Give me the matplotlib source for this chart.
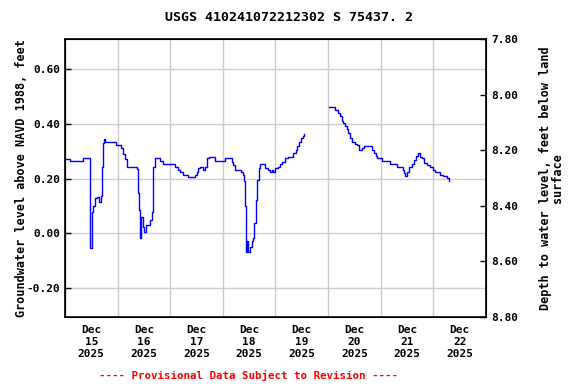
import numpy as np
import pandas as pd
import matplotlib
matplotlib.use('Agg')
import matplotlib.pyplot as plt

# hours since 2025-12-15 00:00 and groundwater level (ft above NAVD 1988)
hours_a = [0.3, 2.3, 7.3, 8.2, 11.0, 11.4, 11.6, 12.3, 12.5, 13.0, 13.7, 14.5, 15.7, 16.3, 16.7,
           17.0, 17.5, 17.9, 18.3, 22.8, 23.3, 25.1, 25.6, 26.6, 27.5, 28.2, 28.7, 31.9, 33.0,
           33.4, 33.9, 34.4, 34.7, 35.6, 36.2, 37.0, 37.9, 38.8, 39.6, 40.0, 40.3, 41.1, 42.9,
           43.3, 44.6, 49.4, 50.2, 51.7, 52.5, 53.7, 55.5, 56.3, 58.5, 59.3, 60.1, 60.8, 61.6,
           62.8, 63.1, 63.9, 64.7, 65.8, 67.4, 68.4, 72.2, 73.0, 75.3, 76.1, 76.8, 77.6, 79.1,
           80.2, 81.4, 81.8, 82.1, 82.4, 82.6, 83.2, 83.6, 84.4, 85.2, 85.9, 86.4, 87.2, 87.7,
           88.5, 89.0, 89.8, 91.3, 92.8, 93.5, 94.3, 95.0, 95.8, 97.3, 98.1, 98.9, 100.4, 101.9,
           103.9, 104.2, 105.4, 106.0, 106.9, 107.6, 108.5, 109.1]
level_a = [0.271, 0.264, 0.264, 0.275, 0.275, 0.27, -0.054, -0.054, 0.079, 0.10, 0.13, 0.132, 0.115,
           0.136, 0.17, 0.243, 0.331, 0.343, 0.332, 0.332, 0.322, 0.322, 0.31, 0.29, 0.27, 0.243,
           0.243, 0.243, 0.235, 0.147, 0.085, -0.017, 0.06, 0.023, 0.005, 0.03, 0.03, 0.048, 0.079,
           0.147, 0.243, 0.274, 0.274, 0.264, 0.253, 0.253, 0.243, 0.233, 0.223, 0.213, 0.213,
           0.205, 0.205, 0.213, 0.223, 0.237, 0.243, 0.243, 0.23, 0.243, 0.274, 0.28, 0.28, 0.264,
           0.264, 0.274, 0.274, 0.262, 0.25, 0.233, 0.233, 0.223, 0.213, 0.19, 0.10, -0.01, -0.067,
           -0.03, -0.067, -0.05, -0.03, -0.018, 0.037, 0.121, 0.194, 0.237, 0.252, 0.252, 0.24,
           0.233, 0.223, 0.232, 0.223, 0.24, 0.243, 0.253, 0.262, 0.274, 0.28, 0.28, 0.292, 0.304,
           0.32, 0.335, 0.347, 0.355, 0.363]

hours_b = [120.5, 122.7, 123.2, 124.3, 125.5, 126.3, 127.0, 127.8, 128.5, 129.3, 130.0, 130.8,
           132.3, 133.1, 134.3, 135.4, 136.4, 139.2, 139.9, 141.0, 141.9, 142.5, 144.1, 144.5,
           147.5, 148.3, 151.4, 151.6, 152.9, 154.1, 154.7, 155.3, 156.2, 157.1, 158.2, 159.2,
           160.2, 160.8, 162.0, 163.0, 163.9, 165.0, 166.5, 167.7, 168.8, 170.3, 171.1, 172.6,
           174.2, 175.2]
level_b = [0.46, 0.46, 0.45, 0.44, 0.428, 0.41, 0.404, 0.392, 0.382, 0.367, 0.347, 0.335, 0.328,
           0.322, 0.304, 0.31, 0.32, 0.32, 0.304, 0.294, 0.282, 0.274, 0.274, 0.264, 0.264, 0.253,
           0.253, 0.243, 0.241, 0.233, 0.221, 0.21, 0.223, 0.241, 0.253, 0.267, 0.282, 0.292, 0.28,
           0.274, 0.256, 0.25, 0.241, 0.233, 0.223, 0.223, 0.213, 0.21, 0.203, 0.192]

left_ticks = [-0.20, 0.00, 0.20, 0.40, 0.60]
right_ticks = [7.80, 8.00, 8.20, 8.40, 8.60, 8.80]
day_labels = ['15', '16', '17', '18', '19', '20', '21', '22']

start = pd.Timestamp('2025-12-15 00:00')
times_a = [start + pd.Timedelta(hours=h) for h in hours_a]
times_b = [start + pd.Timedelta(hours=h) for h in hours_b]

plt.rcParams['font.family'] = 'DejaVu Sans Mono'
plt.rcParams['font.weight'] = 'bold'

fig = plt.figure(figsize=(5.76, 3.84), dpi=100)
ax = fig.add_axes([0.1128, 0.1745, 0.7309, 0.7240])

# two separate segments (data gap on Dec 19-20)
ax.plot(times_a, level_a, color='#0000ff', linewidth=1.0, drawstyle='steps-post')
ax.plot(times_b, level_b, color='#0000ff', linewidth=1.0, drawstyle='steps-post')

ax.set_xlim(start, start + pd.Timedelta(days=8))
ax.set_ylim(-0.306, 0.71)

# grid at midnight, labels at noon
ax.set_xticks([start + pd.Timedelta(days=i) for i in range(9)], minor=True)
ax.set_xticks([start + pd.Timedelta(days=i, hours=12) for i in range(8)])
ax.set_xticklabels(['Dec\n' + d + '\n2025' for d in day_labels], fontsize=8, fontweight='bold')
ax.tick_params(axis='x', which='both', length=0, pad=6)
ax.grid(True, which='minor', axis='x', color='#cccccc', linewidth=1)
ax.set_yticks(left_ticks)
ax.set_yticklabels(['%.2f' % v for v in left_ticks], fontsize=8, fontweight='bold')
ax.tick_params(axis='y', direction='in', length=4, width=1)
ax.grid(True, which='major', axis='y', color='#cccccc', linewidth=1)
ax.set_axisbelow(True)
for s in ax.spines.values():
    s.set_linewidth(1.2)

ax.set_ylabel('Groundwater level above NAVD 1988, feet', fontsize=8.5, fontweight='bold')
ax.yaxis.set_label_coords(-0.088, 0.5)

ax2 = ax.twinx()
ax2.set_ylim(8.80, 7.80)
ax2.set_yticks(right_ticks)
ax2.set_yticklabels(['%.2f' % v for v in right_ticks], fontsize=8, fontweight='bold')
ax2.tick_params(axis='y', direction='in', length=4, width=1)
ax2.set_ylabel('Depth to water level, feet below land\nsurface', fontsize=8.5, fontweight='bold',
               rotation=90, linespacing=0.9)
ax2.yaxis.set_label_coords(1.127, 0.5)

fig.text(0.502, 0.955, 'USGS 410241072212302 S 75437. 2', ha='center', va='center',
         fontsize=9.5, fontweight='bold')
fig.text(0.432, 0.023, '---- Provisional Data Subject to Revision ----', ha='center', va='center',
         fontsize=7.8, fontweight='bold', color='red')

fig.savefig('out.png', dpi=100)
